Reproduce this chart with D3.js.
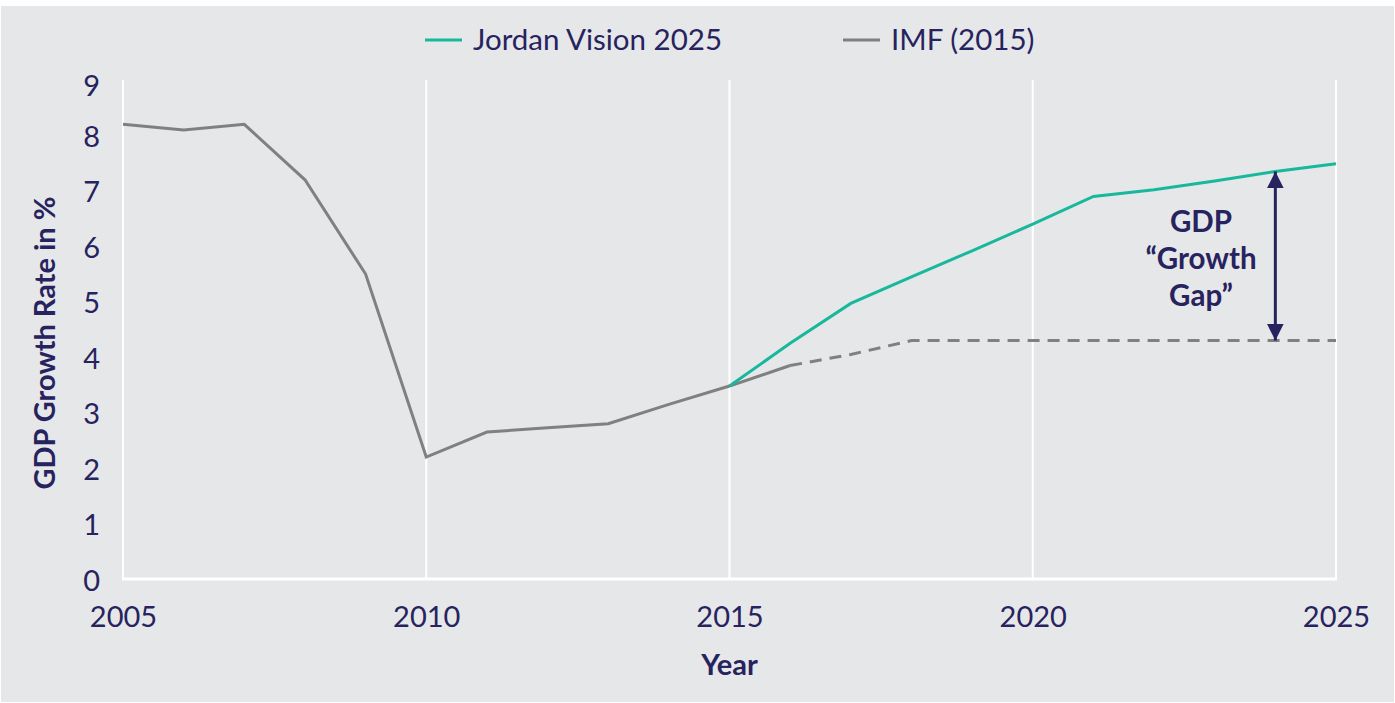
<!DOCTYPE html>
<html>
<head>
<meta charset="utf-8">
<script src="https://cdn.jsdelivr.net/npm/d3@7"></script>
<style>
  body { margin: 0; background: #fff; }
  svg text { font-family: Lato, "Open Sans", sans-serif; fill: #27235f; }
</style>
</head>
<body>
<div id="chart"></div>
<script>
// data
const imfYears   = [2005, 2006, 2007, 2008, 2009, 2010, 2011, 2012, 2013, 2014, 2015, 2016];
const imfValues  = [8.2, 8.1, 8.2, 7.2, 5.5, 2.2, 2.65, 2.73, 2.8, 3.15, 3.48, 3.85];
const imfProjYears  = [2016, 2017, 2018, 2019, 2020, 2021, 2022, 2023, 2024, 2025];
const imfProjValues = [3.85, 4.05, 4.3, 4.3, 4.3, 4.3, 4.3, 4.3, 4.3, 4.3];
const visionYears  = [2015, 2016, 2017, 2018, 2019, 2020, 2021, 2022, 2023, 2024, 2025];
const visionValues = [3.48, 4.25, 4.97, 5.45, 5.92, 6.4, 6.9, 7.02, 7.18, 7.35, 7.49];
const xTicks = [2005, 2010, 2015, 2020, 2025];
const yTicks = [0, 1, 2, 3, 4, 5, 6, 7, 8, 9];
const gapYear = 2024;
const gapLabel = ["GDP", "\u201CGrowth", "Gap\u201D"];

const W = 1395, H = 703;
const green = "#17b89c", grey = "#808080", navy = "#27235f";

const svg = d3.select("#chart").append("svg")
    .attr("width", W).attr("height", H);

svg.append("rect")
    .attr("x", 1).attr("y", 6)
    .attr("width", W - 2).attr("height", H - 7)
    .attr("fill", "#e6e7e9");

const x = d3.scaleLinear().domain([2005, 2025]).range([123, 1336]);
const y = d3.scaleLinear().domain([0, 9]).range([579, 80]);

// vertical grid lines
svg.append("g").selectAll("line")
    .data(xTicks.slice(1))
    .enter().append("line")
    .attr("x1", d => x(d)).attr("x2", d => x(d))
    .attr("y1", y(9)).attr("y2", y(0))
    .attr("stroke", "#fff").attr("stroke-width", 2);

// axes lines (white)
svg.append("line")
    .attr("x1", x(2005)).attr("x2", x(2005))
    .attr("y1", y(9)).attr("y2", y(0))
    .attr("stroke", "#fff").attr("stroke-width", 2);
svg.append("line")
    .attr("x1", x(2005) - 1).attr("x2", x(2025) + 1)
    .attr("y1", y(0)).attr("y2", y(0))
    .attr("stroke", "#fff").attr("stroke-width", 3);

// tick labels
const xAxis = svg.append("g")
    .attr("transform", `translate(0,${y(0)})`)
    .call(d3.axisBottom(x).tickValues(xTicks).tickFormat(d3.format("d")).tickSize(0).tickPadding(27));
xAxis.select(".domain").remove();
xAxis.selectAll("text").attr("font-size", 29).attr("fill", navy);

const yAxis = svg.append("g")
    .attr("transform", `translate(${x(2005)},0)`)
    .call(d3.axisLeft(y).tickValues(yTicks).tickSize(0).tickPadding(23));
yAxis.select(".domain").remove();
yAxis.selectAll("text").attr("font-size", 29).attr("fill", navy)
    .attr("dy", d => d === 9 ? "0.55em" : "0.38em");

// axis titles
svg.append("text")
    .attr("x", x(2015)).attr("y", 675)
    .attr("text-anchor", "middle")
    .attr("font-size", 29).attr("font-weight", "bold")
    .text("Year");

svg.append("text")
    .attr("transform", "translate(55,343) rotate(-90)")
    .attr("text-anchor", "middle")
    .attr("font-size", 29).attr("font-weight", "bold")
    .text("GDP Growth Rate in %");

// lines
const line = d3.line().x(d => x(d[0])).y(d => y(d[1]));

svg.append("path")
    .datum(d3.zip(imfProjYears, imfProjValues))
    .attr("d", line)
    .attr("fill", "none").attr("stroke", grey)
    .attr("stroke-width", 3).attr("stroke-dasharray", "12,8");

svg.append("path")
    .datum(d3.zip(imfYears, imfValues))
    .attr("d", line)
    .attr("fill", "none").attr("stroke", grey)
    .attr("stroke-width", 3);

svg.append("path")
    .datum(d3.zip(visionYears, visionValues))
    .attr("d", line)
    .attr("fill", "none").attr("stroke", green)
    .attr("stroke-width", 3);

// growth gap arrow
const defs = svg.append("defs");
["start", "end"].forEach(k => {
    defs.append("marker")
        .attr("id", "arrow-" + k)
        .attr("viewBox", "0 0 10 10")
        .attr("refX", 10).attr("refY", 5)
        .attr("markerUnits", "userSpaceOnUse")
        .attr("markerWidth", 17).attr("markerHeight", 19)
        .attr("orient", k === "start" ? "auto-start-reverse" : "auto")
        .append("path")
        .attr("d", "M0,0 L10,5 L0,10 Z")
        .attr("fill", navy);
});

const gapTop = visionValues[visionYears.indexOf(gapYear)];
const gapBottom = imfProjValues[imfProjYears.indexOf(gapYear)];
svg.append("line")
    .attr("x1", x(gapYear)).attr("x2", x(gapYear))
    .attr("y1", y(gapTop)).attr("y2", y(gapBottom))
    .attr("stroke", navy).attr("stroke-width", 3)
    .attr("marker-start", "url(#arrow-start)")
    .attr("marker-end", "url(#arrow-end)");

svg.append("text")
    .attr("text-anchor", "middle")
    .attr("font-size", 29.5).attr("font-weight", "bold")
    .selectAll("tspan")
    .data(gapLabel)
    .enter().append("tspan")
    .attr("x", 1201)
    .attr("y", (d, i) => 232 + i * 37)
    .text(d => d);

// legend
const legend = [
    { name: "Jordan Vision 2025", color: green, x: 425 },
    { name: "IMF (2015)", color: grey, x: 843 }
];
const lg = svg.append("g").selectAll("g")
    .data(legend)
    .enter().append("g")
    .attr("transform", d => `translate(${d.x},40)`);
lg.append("line")
    .attr("x1", 0).attr("x2", 37)
    .attr("stroke", d => d.color).attr("stroke-width", 3);
lg.append("text")
    .attr("x", 48).attr("y", 10)
    .attr("font-size", 29.5)
    .text(d => d.name);
</script>
</body>
</html>
